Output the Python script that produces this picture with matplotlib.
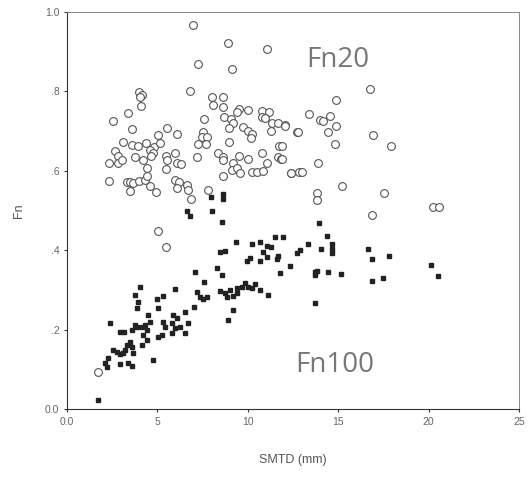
import matplotlib.pyplot as plt

plt.rcParams['font.family'] = ['Liberation Sans', 'DejaVu Sans']

# Fn20 (open circles)
fn20_x = [6.95, 8.89, 11.08, 7.23, 9.14, 6.79, 3.98, 4.16, 4.04, 4.08, 8.04, 8.64, 8.09, 8.64,
          9.50, 9.99, 9.39, 10.80, 11.17, 10.77, 10.95, 3.39, 2.53, 7.58, 8.67, 9.05, 9.20, 8.98,
          9.75, 10.03, 10.22, 10.18, 11.36, 11.65, 12.06, 11.27, 12.72, 3.58, 5.51, 5.05, 6.07,
          7.54, 7.45, 7.73, 7.25, 7.67, 8.96, 11.73, 3.11, 3.58, 3.94, 4.37, 4.83, 5.14, 2.65,
          2.84, 4.59, 4.77, 4.63, 2.34, 2.84, 3.03, 3.76, 4.22, 5.48, 5.97, 6.07, 6.29, 5.51,
          7.17, 8.34, 8.64, 8.64, 9.16, 9.51, 9.99, 10.80, 11.05, 11.69, 11.84, 5.46, 4.44, 9.11,
          9.39, 9.57, 10.22, 10.49, 10.82, 8.61, 12.37, 12.85, 2.34, 3.30, 3.48, 3.67, 4.00, 4.31,
          4.44, 3.48, 4.59, 4.92, 5.97, 6.21, 6.07, 6.62, 6.71, 7.82, 6.86, 5.05, 5.48, 1.73,
          16.76, 14.86, 13.40, 13.99, 14.14, 14.55, 14.86, 14.45, 12.06, 12.79, 16.94, 17.92,
          14.82, 11.87, 11.87, 13.90, 12.39, 12.98, 15.19, 13.81, 13.81, 17.55, 16.89, 20.23, 20.59]
fn20_y = [0.967, 0.921, 0.907, 0.868, 0.856, 0.801, 0.798, 0.791, 0.787, 0.763, 0.787, 0.787, 0.767, 0.760,
          0.757, 0.753, 0.749, 0.751, 0.749, 0.736, 0.732, 0.747, 0.726, 0.730, 0.736, 0.730, 0.720, 0.707,
          0.711, 0.700, 0.694, 0.684, 0.721, 0.721, 0.715, 0.701, 0.697, 0.705, 0.707, 0.690, 0.692,
          0.699, 0.686, 0.686, 0.668, 0.668, 0.673, 0.663, 0.673, 0.665, 0.662, 0.671, 0.661, 0.669, 0.650,
          0.637, 0.652, 0.644, 0.637, 0.621, 0.619, 0.627, 0.636, 0.627, 0.637, 0.644, 0.621, 0.617, 0.627,
          0.636, 0.644, 0.636, 0.627, 0.620, 0.637, 0.631, 0.646, 0.619, 0.634, 0.629, 0.605, 0.608, 0.602,
          0.606, 0.595, 0.596, 0.596, 0.599, 0.587, 0.595, 0.598, 0.574, 0.571, 0.573, 0.570, 0.575, 0.577,
          0.587, 0.549, 0.562, 0.546, 0.577, 0.573, 0.556, 0.564, 0.552, 0.552, 0.529, 0.448, 0.409, 0.092,
          0.806, 0.778, 0.742, 0.728, 0.725, 0.738, 0.714, 0.697, 0.714, 0.697, 0.690, 0.663,
          0.667, 0.663, 0.630, 0.621, 0.594, 0.596, 0.562, 0.543, 0.526, 0.545, 0.490, 0.510, 0.510]

# Fn100 (filled squares)
fn100_x = [7.96, 8.61, 8.61, 6.62, 6.80, 8.00, 8.59, 9.33, 10.25, 10.67, 11.05, 11.27, 11.50, 11.96,
           8.46, 8.74, 9.94, 10.12, 10.67, 11.05, 10.86, 11.69, 11.60, 12.33, 12.70, 11.78, 7.08, 8.28,
           8.56, 7.58, 4.04, 3.76, 3.94, 3.89, 5.97, 5.33, 4.96, 5.05, 7.17, 7.36, 7.54, 7.73, 8.46,
           8.74, 9.02, 9.20, 9.39, 9.66, 9.85, 10.03, 10.22, 10.40, 10.67, 11.13, 8.83, 9.39, 7.04,
           9.20, 8.92, 4.50, 4.59, 4.31, 4.13, 4.41, 4.19, 4.41, 4.13, 5.88, 6.07, 5.79, 5.97, 6.25,
           5.79, 6.53, 6.71, 6.53, 5.33, 5.42, 5.24, 5.05, 2.38, 2.93, 3.15, 3.58, 3.76, 3.89, 3.48,
           3.30, 3.21, 3.58, 3.67, 2.56, 2.75, 2.93, 3.11, 2.28, 2.10, 2.20, 2.93, 3.39, 3.58, 4.77,
           1.73, 13.94, 14.36, 13.31, 12.89, 14.05, 14.67, 14.67, 14.67, 13.72, 13.72, 13.81, 14.42,
           15.14, 16.63, 16.85, 17.81, 16.85, 17.49, 20.12, 20.54, 13.72]
fn100_y = [0.535, 0.542, 0.528, 0.500, 0.486, 0.499, 0.472, 0.420, 0.415, 0.421, 0.411, 0.407, 0.434, 0.434,
           0.395, 0.398, 0.373, 0.380, 0.373, 0.384, 0.396, 0.386, 0.378, 0.360, 0.392, 0.342, 0.346, 0.354,
           0.338, 0.319, 0.308, 0.287, 0.270, 0.254, 0.302, 0.285, 0.276, 0.254, 0.295, 0.283, 0.276, 0.281, 0.297,
           0.291, 0.300, 0.285, 0.304, 0.308, 0.317, 0.308, 0.304, 0.315, 0.300, 0.287, 0.283, 0.291, 0.256,
           0.249, 0.224, 0.237, 0.220, 0.212, 0.206, 0.199, 0.186, 0.174, 0.161, 0.237, 0.228, 0.216, 0.203, 0.207,
           0.191, 0.191, 0.216, 0.245, 0.220, 0.206, 0.186, 0.182, 0.216, 0.195, 0.193, 0.199, 0.212, 0.207, 0.170,
           0.161, 0.149, 0.157, 0.140, 0.149, 0.143, 0.138, 0.140, 0.128, 0.115, 0.107, 0.113, 0.115, 0.109, 0.123,
           0.023, 0.468, 0.437, 0.415, 0.401, 0.403, 0.415, 0.403, 0.392, 0.346, 0.338, 0.348, 0.344,
           0.340, 0.403, 0.377, 0.386, 0.323, 0.331, 0.363, 0.336, 0.266]

xticks = [0, 5, 10, 15, 20, 25]
xtick_labels = ['0.0', '5', '10', '15', '20', '25']
yticks = [0, 0.2, 0.4, 0.6, 0.8, 1.0]
ytick_labels = ['0.0', '.2', '.4', '.6', '.8', '1.0']

fig = plt.figure(figsize=(5.30, 4.84), dpi=100)
ax = fig.add_axes([0.1264, 0.155, 0.853, 0.82])

ax.plot(fn20_x, fn20_y, 'o', markersize=5.6, markerfacecolor='white',
        markeredgecolor='#555555', markeredgewidth=0.8, linestyle='none')
ax.plot(fn100_x, fn100_y, 's', markersize=3.5, color='#222222', linestyle='none')

ax.set_xlim(0, 25)
ax.set_ylim(0, 1.0)
ax.set_xticks(xticks)
ax.set_xticklabels(xtick_labels)
ax.set_yticks(yticks)
ax.set_yticklabels(ytick_labels)
ax.tick_params(direction='out', length=2, labelsize=7.5, labelcolor='#666666', color='#333333')

for side in ['left', 'bottom']:
    ax.spines[side].set_color('#333333')
for side in ['top', 'right']:
    ax.spines[side].set_color('#888888')
    ax.spines[side].set_linewidth(0.7)

ax.set_xlabel('SMTD (mm)', fontsize=9, color='#555555', labelpad=20)
ax.set_ylabel('Fn', fontsize=9, color='#555555', labelpad=14)

ax.text(15.0, 0.88, 'Fn20', fontsize=20, color='#777777', ha='center', va='center',
        family=['Open Sans', 'DejaVu Sans'])
ax.text(14.8, 0.11, 'Fn100', fontsize=20, color='#777777', ha='center', va='center',
        family=['Open Sans', 'DejaVu Sans'])

fig.savefig('out.png', dpi=100)
